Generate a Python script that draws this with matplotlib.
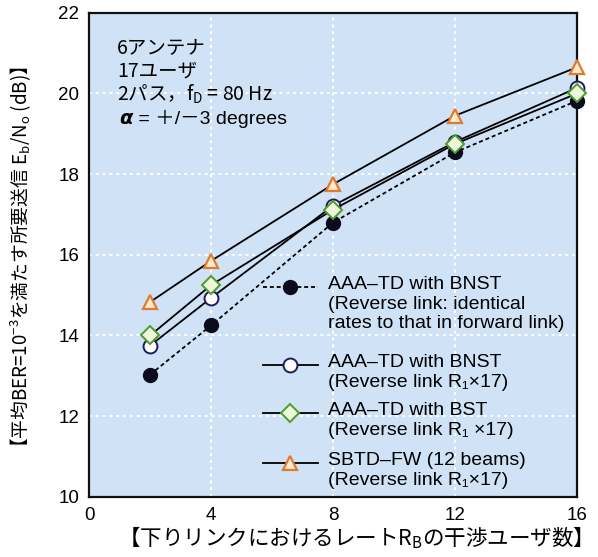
import matplotlib
matplotlib.use("Agg")
import matplotlib.pyplot as plt

plt.rcParams['font.family'] = ['Liberation Sans', 'Noto Sans CJK JP', 'DejaVu Sans']
plt.rcParams['mathtext.fontset'] = 'custom'
plt.rcParams['mathtext.rm'] = 'Noto Sans CJK JP'
plt.rcParams['mathtext.it'] = 'Noto Sans CJK JP'
plt.rcParams['mathtext.bf'] = 'Noto Sans CJK JP:bold'
JP = 'Noto Sans CJK JP'

# data
users = [2, 4, 8, 12, 16]
bnst_same = [13.03, 14.25, 16.80, 18.54, 19.82]   # filled circle, dashed
bnst_r17 = [13.75, 14.93, 17.22, 18.80, 20.14]    # open circle
bst_r17 = [14.00, 15.25, 17.12, 18.75, 20.00]     # diamond
sbtd_r17 = [14.83, 15.85, 17.75, 19.45, 20.65]    # triangle

labels = [
    "AAA\u2013TD with BNST\n(Reverse link: identical\nrates to that in forward link)",
    "AAA\u2013TD with BNST\n(Reverse link R\u2081\u00d717)",
    "AAA\u2013TD with BST\n(Reverse link R\u2081 \u00d717)",
    "SBTD\u2013FW (12 beams)\n(Reverse link R\u2081\u00d717)",
]

bg = '#d0e2f6'
styles = [
    dict(ls=(0, (2.2, 1.6)), marker='o', ms=10, mfc='#0b0b1e', mec='#0b0b1e'),
    dict(ls='-', marker='o', ms=10, mfc='white', mec='#1c1c5c', mew=1.4),
    dict(ls='-', marker='D', ms=9, mfc='#eef7dc', mec='#4f9a2a', mew=1.4),
    dict(ls='-', marker='^', ms=10, mfc='#fde9cc', mec='#e07a30', mew=1.6),
]
series = [bnst_same, bnst_r17, bst_r17, sbtd_r17]

fig = plt.figure(figsize=(5.98, 5.57), dpi=100)
ax = fig.add_axes([0.149, 0.108, 0.816, 0.869])
ax.set_facecolor(bg)

for ys, st in zip(series, styles):
    ax.plot(users, ys, color='black', lw=1.3, zorder=3, clip_on=False, **st)

ax.set_xlim(0, 16)
ax.set_ylim(10, 22)
ax.set_xticks([0, 4, 8, 12, 16])
ax.set_yticks([10, 12, 14, 16, 18, 20, 22])
ax.tick_params(length=0, labelsize=13.5, pad=7)
ax.grid(True, color='white', ls=(0, (1.5, 2)), lw=1.4)
for s in ax.spines.values():
    s.set_linewidth(1.6)
    s.set_color('#111111')

ax.set_ylabel("【平均BER=10$^{-3}$を満たす所要送信 E$_\\mathrm{b}$/N$_\\mathrm{o}$ (dB)】",
              fontsize=13.5, family=JP)
ax.yaxis.set_label_coords(-0.112, 0.486)
ax.set_xlabel("【下りリンクにおけるレートR$_\\mathrm{B}$の干渉ユーザ数】", fontsize=15.5, family=JP)
ax.xaxis.set_label_coords(0.535, -0.056)

ax.text(0.057, 0.948, "6アンテナ\n17ユーザ\n2パス，f$_\\mathrm{D}$ = 80 Hz",
        transform=ax.transAxes, fontsize=14, va='top', linespacing=1.08, family=JP)
t_alpha = ax.text(0.062, 0.770, "α", transform=ax.transAxes, fontsize=14, va='baseline',
                  family='DejaVu Sans', style='italic', weight='bold')
ax.annotate(" = ＋/－3 degrees", xy=(1, 0), xycoords=t_alpha, va='bottom', fontsize=14)

# hand-made legend: handle aligned with the first line of each entry
rows = [0.434, 0.273, 0.174, 0.070]
for yrow, st, lab in zip(rows, styles, labels):
    ax.plot([0.357, 0.469], [yrow, yrow], transform=ax.transAxes, color='black', lw=1.3,
            ls=st['ls'], zorder=4)
    ax.plot([0.412], [yrow], transform=ax.transAxes, ls='none', zorder=5,
            **{k: v for k, v in st.items() if k != 'ls'})
    ax.text(0.49, yrow + 0.022, lab, transform=ax.transAxes, fontsize=14, va='top',
            linespacing=1.2)

fig.savefig("out.png", dpi=100)
